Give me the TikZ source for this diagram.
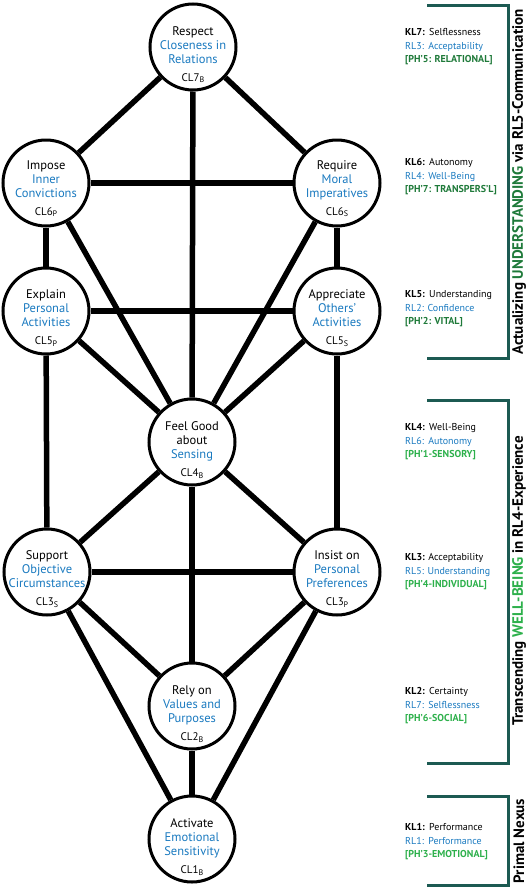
\documentclass[tikz,border=0pt]{standalone}
\usepackage{fontspec}
\setmainfont{PT Sans}
\definecolor{clblue}{HTML}{1A7AC0}
\definecolor{phdark}{HTML}{1F7A3A}
\definecolor{phlight}{HTML}{2DB04B}
\definecolor{brteal}{HTML}{1C5A52}
\newcommand{\clname}[2]{{\fontsize{11}{13}\selectfont CL#1\raisebox{-1.2pt}{\fontsize{8}{8}\selectfont #2}}}
\tikzset{
  ball/.style={circle,draw,line width=3pt,fill=white,minimum size=86pt,inner sep=0pt},
  cltext/.style={align=center,font=\fontsize{12.5}{14}\selectfont,inner sep=0pt},
  link/.style={line width=5.5pt},
  kltext/.style={anchor=west,align=left,font=\fontsize{10}{13.5}\selectfont,inner sep=0pt},
  bracket/.style={draw=brteal,line width=3pt},
  sidetext/.style={rotate=90,font=\bfseries\fontsize{15}{15}\selectfont,inner sep=0pt}
}
\begin{document}
\begin{tikzpicture}[x=1pt,y=-1pt]
  \useasboundingbox (0,0) rectangle (529,889);
  \node[ball] (cl7) at (193,47) {};
  \node[ball] (cl6p) at (46,183) {};  \node[ball] (cl6s) at (337,183) {};
  \node[ball] (cl5p) at (46,311) {};  \node[ball] (cl5s) at (337,311) {};
  \node[ball] (cl4) at (192,442) {};
  \node[ball] (cl3s) at (47,572) {};  \node[ball] (cl3p) at (337,572) {};
  \node[ball] (cl2) at (192,706) {};
  \node[ball] (cl1) at (192,839) {};
  \draw[link] (cl7) -- (cl6p);  \draw[link] (cl7) -- (cl6s);  \draw[link] (cl7) -- (cl4);
  \draw[link] (cl6p) -- (cl6s); \draw[link] (cl6p) -- (cl5p); \draw[link] (cl6s) -- (cl5s);
  \draw[link] (cl6p) -- (cl4);  \draw[link] (cl6s) -- (cl4);
  \draw[link] (cl5p) -- (cl5s); \draw[link] (cl5p) -- (cl4);  \draw[link] (cl5s) -- (cl4);
  \draw[link] (cl5p) -- (cl3s); \draw[link] (cl5s) -- (cl3p);
  \draw[link] (cl4) -- (cl3s);  \draw[link] (cl4) -- (cl3p);  \draw[link] (cl4) -- (cl2);
  \draw[link] (cl3s) -- (cl3p); \draw[link] (cl3s) -- (cl2);  \draw[link] (cl3p) -- (cl2);
  \draw[link] (cl3s) -- (cl1);  \draw[link] (cl3p) -- (cl1);  \draw[link] (cl2) -- (cl1);
  \node[cltext] (t7) at (193,55) {Respect\\\textcolor{clblue}{Closeness in}\\\textcolor{clblue}{Relations}\\[4pt]\clname{7}{B}};
  \node[cltext] (t6p) at (46,189) {Impose\\\textcolor{clblue}{Inner}\\\textcolor{clblue}{Convictions}\\[4pt]\clname{6}{P}};
  \node[cltext] (t6s) at (337,189) {Require\\\textcolor{clblue}{Moral}\\\textcolor{clblue}{Imperatives}\\[4pt]\clname{6}{S}};
  \node[cltext] (t5p) at (46,318) {Explain\\\textcolor{clblue}{Personal}\\\textcolor{clblue}{Activities}\\[4pt]\clname{5}{P}};
  \node[cltext] (t5s) at (337,318) {Appreciate\\\textcolor{clblue}{Others'}\\\textcolor{clblue}{Activities}\\[4pt]\clname{5}{S}};
  \node[cltext] (t4) at (192,450) {Feel Good\\about\\\textcolor{clblue}{Sensing}\\[4pt]\clname{4}{B}};
  \node[cltext] (t3s) at (47,579) {Support\\\textcolor{clblue}{Objective}\\\textcolor{clblue}{Circumstances}\\[4pt]\clname{3}{S}};
  \node[cltext] (t3p) at (337,579) {Insist on\\\textcolor{clblue}{Personal}\\\textcolor{clblue}{Preferences}\\[4pt]\clname{3}{P}};
  \node[cltext] (t2) at (192,714) {Rely on\\\textcolor{clblue}{Values and}\\\textcolor{clblue}{Purposes}\\[4pt]\clname{2}{B}};
  \node[cltext] (t1) at (192,847) {Activate\\\textcolor{clblue}{Emotional}\\\textcolor{clblue}{Sensitivity}\\[4pt]\clname{1}{B}};
  \node[kltext] (k7) at (405,47) {\textbf{KL7:}\ \,Selflessness\\\textcolor{clblue}{RL3:\ \,Acceptability}\\\textcolor{phdark}{\textbf{[PH'5: RELATIONAL]}}};
  \node[kltext] (k6) at (405,177) {\textbf{KL6:}\ \,Autonomy\\\textcolor{clblue}{RL4:\ \,Well-Being}\\\textcolor{phdark}{\textbf{[PH'7: TRANSPERS'L]}}};
  \node[kltext] (k5) at (405,309) {\textbf{KL5:}\ \,Understanding\\\textcolor{clblue}{RL2: Confidence}\\\textcolor{phdark}{\textbf{[PH'2: VITAL]}}};
  \node[kltext] (k4) at (405,442) {\textbf{KL4:}\ \,Well-Being\\\textcolor{clblue}{RL6:\ \,Autonomy}\\\textcolor{phlight}{\textbf{[PH'1-SENSORY]}}};
  \node[kltext] (k3) at (405,572) {\textbf{KL3:} Acceptability\\\textcolor{clblue}{RL5: Understanding}\\\textcolor{phlight}{\textbf{[PH'4-INDIVIDUAL]}}};
  \node[kltext] (k2) at (405,706) {\textbf{KL2:}\ \,Certainty\\\textcolor{clblue}{RL7:\ \,Selflessness}\\\textcolor{phlight}{\textbf{[PH'6-SOCIAL]}}};
  \node[kltext] (k1) at (405,842) {\textbf{KL1:}\ \,Performance\\\textcolor{clblue}{RL1:\ \,Performance}\\\textcolor{phlight}{\textbf{[PH'3-EMOTIONAL]}}};
  \draw[bracket] (427,5) -- (508,5) -- (508,358) -- (427,358);
  \draw[bracket] (427,400) -- (508,400) -- (508,763) -- (427,763);
  \draw[bracket] (427,796) -- (508,796) -- (508,885) -- (427,885);
  \node[sidetext] (s1) at (519,182) {Actualizing \textcolor{phdark}{UNDERSTANDING} via RL5-Communication};
  \node[sidetext] (s2) at (519,581) {Transcending \textcolor{phlight}{WELL-BEING} in RL4-Experience};
  \node[sidetext] (s3) at (519,841) {Primal Nexus};
\end{tikzpicture}
\end{document}
